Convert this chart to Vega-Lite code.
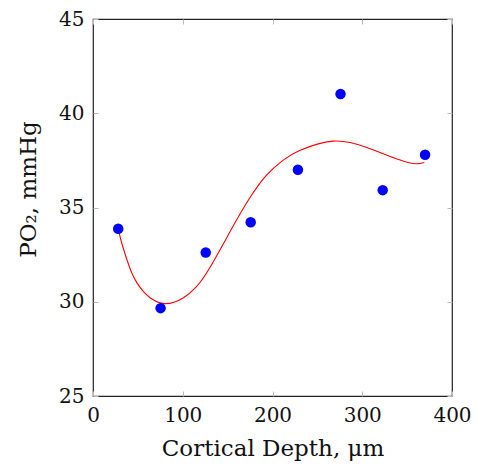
{
  "$schema": "https://vega.github.io/schema/vega-lite/v6.json",
  "width": 359,
  "height": 377,
  "autosize": "none",
  "padding": {"left": 93, "top": 19, "right": 26, "bottom": 77},
  "background": "white",
  "config": {
    "view": {"stroke": "#222222", "strokeWidth": 1.2},
    "axis": {
      "labelFont": "DejaVu Serif",
      "titleFont": "DejaVu Serif",
      "labelFontSize": 20,
      "titleFontSize": 23,
      "labelColor": "#111111",
      "titleColor": "#111111",
      "titleFontWeight": "normal",
      "labelFlush": false,
      "labelOverlap": false,
      "grid": false,
      "domain": false,
      "tickColor": "#bbbbbb",
      "tickSize": -5,
      "tickWidth": 1
    }
  },
  "datasets": {
    "pts": [
      {"depth": 28.1, "po2": 33.87},
      {"depth": 75.3, "po2": 29.66},
      {"depth": 125.6, "po2": 32.61},
      {"depth": 175.7, "po2": 34.22},
      {"depth": 228.3, "po2": 37.0},
      {"depth": 275.8, "po2": 41.02},
      {"depth": 322.8, "po2": 35.92},
      {"depth": 370.0, "po2": 37.8}
    ],
    "fit": [
      {"depth": 28.1, "po2": 33.87},
      {"depth": 31.0, "po2": 33.3},
      {"depth": 34.0, "po2": 32.8},
      {"depth": 38.0, "po2": 32.2},
      {"depth": 43.0, "po2": 31.55},
      {"depth": 49.0, "po2": 31.0},
      {"depth": 56.0, "po2": 30.55},
      {"depth": 64.0, "po2": 30.2},
      {"depth": 80.0, "po2": 29.9},
      {"depth": 100.4, "po2": 30.2},
      {"depth": 115.3, "po2": 30.8},
      {"depth": 130.1, "po2": 31.8},
      {"depth": 156.0, "po2": 34.0},
      {"depth": 174.6, "po2": 35.5},
      {"depth": 193.1, "po2": 36.7},
      {"depth": 211.6, "po2": 37.5},
      {"depth": 230.2, "po2": 38.02},
      {"depth": 267.2, "po2": 38.52},
      {"depth": 304.3, "po2": 38.2},
      {"depth": 341.4, "po2": 37.53},
      {"depth": 360.0, "po2": 37.32},
      {"depth": 369.2, "po2": 37.39}
    ]
  },
  "layer": [
    {
      "data": {"name": "fit"},
      "mark": {"type": "line", "color": "#ff0000", "strokeWidth": 1.1, "interpolate": "natural"},
      "encoding": {
        "x": {"field": "depth", "type": "quantitative", "scale": {"domain": [0, 400], "nice": false},
          "axis": {"orient": "top", "labels": false, "title": null, "values": [0, 100, 200, 300, 400]}},
        "y": {"field": "po2", "type": "quantitative", "scale": {"domain": [25, 45], "nice": false, "zero": false},
          "axis": {"orient": "right", "labels": false, "title": null, "values": [25, 30, 35, 40, 45]}}
      }
    },
    {
      "data": {"name": "pts"},
      "mark": {"type": "point", "filled": true, "color": "#0000ff", "opacity": 1, "size": 110},
      "encoding": {
        "x": {"field": "depth", "type": "quantitative", "scale": {"domain": [0, 400], "nice": false},
          "axis": {"orient": "bottom", "title": "Cortical Depth, μm", "values": [0, 100, 200, 300, 400], "labelPadding": 14, "titlePadding": 12}},
        "y": {"field": "po2", "type": "quantitative", "scale": {"domain": [25, 45], "nice": false, "zero": false},
          "axis": {"orient": "left", "title": "PO₂, mmHg", "values": [25, 30, 35, 40, 45], "labelPadding": 14, "titlePadding": 18, "titleY": 170}}
      }
    }
  ],
  "resolve": {"axis": {"x": "independent", "y": "independent"}}
}
